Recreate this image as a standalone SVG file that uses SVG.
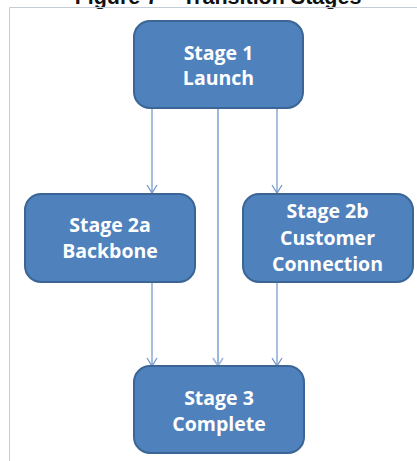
<svg xmlns="http://www.w3.org/2000/svg" width="417" height="461" viewBox="0 0 417 461">
  <defs>
    <marker id="arrow" markerWidth="12" markerHeight="12" refX="10" refY="6" orient="auto" markerUnits="userSpaceOnUse" viewBox="0 0 12 12">
      <path d="M2,1 L10,6 L2,11" fill="none" stroke="#6f93c9" stroke-width="1.2"/>
    </marker>
    <marker id="arrow-mid" markerWidth="12" markerHeight="12" refX="10" refY="6" orient="auto" markerUnits="userSpaceOnUse" viewBox="0 0 12 12">
      <path d="M2,1 L10,6 L2,11" fill="none" stroke="#9db8de" stroke-width="1.6"/>
    </marker>
  </defs>
  <style>
    .title { font-family: "Liberation Sans", Arial, sans-serif; font-weight: bold; font-size: 21.5px; fill: #111; }
    .frame { fill: none; stroke: #c4ccd6; stroke-width: 1; }
    .box { fill: #4f81bd; stroke: #3a6594; stroke-width: 2; }
    .label { font-family: "Open Sans", "Liberation Sans", sans-serif; font-weight: bold; font-size: 19.5px; fill: #ffffff; text-anchor: middle; }
    .edge { fill: none; stroke: #6f93c9; stroke-width: 1.2; marker-end: url(#arrow); }
    .edge-mid { fill: none; stroke: #9db8de; stroke-width: 2; marker-end: url(#arrow-mid); }
  </style>

  <rect width="417" height="461" fill="#ffffff"/>

  <!-- caption, clipped at the top edge -->
  <text class="title" x="218" y="4" text-anchor="middle">Figure 7 – Transition Stages</text>

  <!-- figure frame -->
  <path class="frame" d="M9.5,461 L9.5,7.5 L417,7.5"/>

  <!-- connectors -->
  <g id="connectors">
    <line class="edge" x1="152" y1="108" x2="152" y2="193"/>
    <line class="edge" x1="277" y1="108" x2="277" y2="193"/>
    <line class="edge-mid" x1="218" y1="108" x2="218" y2="366"/>
    <line class="edge" x1="152" y1="282" x2="152" y2="366"/>
    <line class="edge" x1="277" y1="282" x2="277" y2="366"/>
  </g>

  <g id="stage1">
    <rect class="box" x="134" y="21" width="169" height="87" rx="16"/>
    <text class="label" x="218.5" y="60">Stage 1</text>
    <text class="label" x="218.5" y="85">Launch</text>
  </g>

  <g id="stage2a">
    <rect class="box" x="25" y="194" width="170" height="88" rx="16"/>
    <text class="label" x="110" y="232">Stage 2a</text>
    <text class="label" x="110" y="258">Backbone</text>
  </g>

  <g id="stage2b">
    <rect class="box" x="243" y="194" width="170" height="88" rx="16"/>
    <text class="label" x="327.5" y="218">Stage 2b</text>
    <text class="label" x="327.5" y="245">Customer</text>
    <text class="label" x="327.5" y="271">Connection</text>
  </g>

  <g id="stage3">
    <rect class="box" x="134" y="366" width="170" height="87" rx="16"/>
    <text class="label" x="219" y="405">Stage 3</text>
    <text class="label" x="219" y="431">Complete</text>
  </g>
</svg>
